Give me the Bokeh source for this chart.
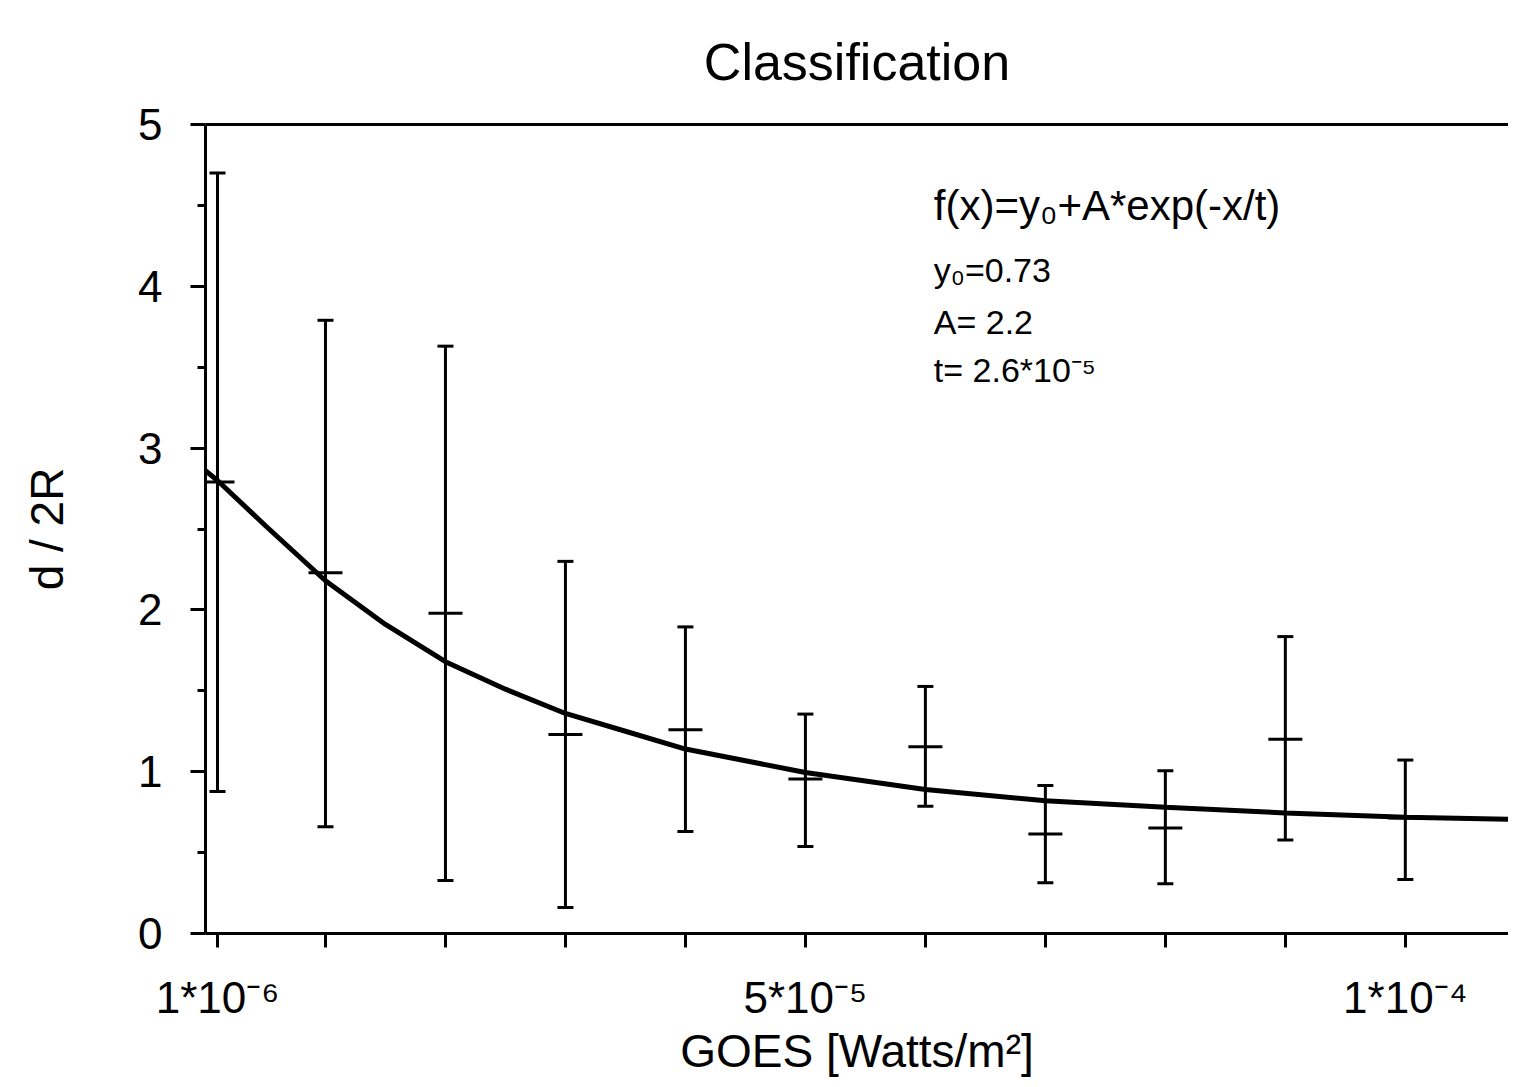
from bokeh.plotting import figure
from bokeh.models import FixedTicker, LinearAxis, Label, Range1d, ColumnDataSource
from bokeh.embed import file_html
from bokeh.resources import INLINE

# ---- data ----
goes = [1e-6, 1e-5, 2e-5, 3e-5, 4e-5, 5e-5, 6e-5, 7e-5, 8e-5, 9e-5, 1e-4]
ratio = [2.79, 2.23, 1.98, 1.23, 1.26, 0.955, 1.154, 0.615, 0.652, 1.20, 0.714]
ratio_hi = [4.70, 3.79, 3.63, 2.30, 1.895, 1.356, 1.527, 0.914, 1.006, 1.835, 1.072]
ratio_lo = [0.877, 0.66, 0.327, 0.16, 0.63, 0.537, 0.786, 0.313, 0.307, 0.578, 0.333]

fit_x = [0, 0.1e-5, 0.5e-5, 1e-5, 1.5e-5, 2e-5, 2.5e-5, 3e-5, 3.5e-5, 4e-5,
         5e-5, 6e-5, 7e-5, 8e-5, 9e-5, 10e-5, 11e-5]
fit_y = [2.86, 2.80, 2.52, 2.18, 1.91, 1.68, 1.51, 1.36, 1.25, 1.14,
         0.995, 0.89, 0.82, 0.78, 0.745, 0.718, 0.705]

x_ticks = [1e-6, 1e-5, 2e-5, 3e-5, 4e-5, 5e-5, 6e-5, 7e-5, 8e-5, 9e-5, 1e-4]
x_tick_labels = {1e-6: "1*10⁻⁶", 5e-5: "5*10⁻⁵", 1e-4: "1*10⁻⁴"}
y_ticks = [0, 1, 2, 3, 4, 5]
y_minor_ticks = [0.5, 1.5, 2.5, 3.5, 4.5]

title_text = "Classification"
x_label = "GOES [Watts/m²]"
y_label = "d / 2R"
fit_lines = ["f(x)=y₀+A*exp(-x/t)", "y₀=0.73", "A= 2.2", "t= 2.6*10⁻⁵"]

FONT = "Liberation Sans"

p = figure(width=1508, height=1079,
           x_range=Range1d(0, 1.086e-4), y_range=Range1d(0, 5),
           output_backend="svg", toolbar_location=None,
           min_border_left=205, min_border_right=0,
           min_border_top=123, min_border_bottom=146,
           title=title_text)
p.outline_line_color = None
p.xgrid.visible = False
p.ygrid.visible = False
p.background_fill_color = "white"
p.border_fill_color = "white"

p.title.text_font = FONT
p.title.text_font_size = "52px"
p.title.text_font_style = "normal"
p.title.text_color = "black"
p.title.align = "center"
p.title.vertical_align = "top"
p.title.standoff = 64

xa = p.xaxis[0]
xa.ticker = FixedTicker(ticks=x_ticks, minor_ticks=[])
xa.major_label_overrides = {t: x_tick_labels.get(t, "") for t in x_ticks}
ya = p.yaxis[0]
ya.ticker = FixedTicker(ticks=y_ticks, minor_ticks=y_minor_ticks)

for ax in (xa, ya):
    ax.axis_line_width = 3
    ax.axis_line_color = "black"
    ax.major_tick_line_width = 3
    ax.major_tick_line_color = "black"
    ax.minor_tick_line_width = 3
    ax.major_tick_in = 0
    ax.minor_tick_in = 0
    ax.major_label_text_font = FONT
    ax.major_label_text_font_size = "44px"
    ax.major_label_text_color = "black"
    ax.axis_label_text_font = FONT
    ax.axis_label_text_font_size = "46px"
    ax.axis_label_text_font_style = "normal"
    ax.axis_label_text_color = "black"

xa.major_tick_out = 14
xa.minor_tick_line_color = None
xa.major_label_standoff = 25
xa.axis_label = x_label
xa.axis_label_standoff = 0

ya.major_tick_out = 15
ya.minor_tick_out = 8
ya.major_label_standoff = 28
ya.axis_label = y_label
ya.axis_label_standoff = 62

top = LinearAxis(ticker=FixedTicker(ticks=[]), axis_line_width=3,
                 axis_line_color="black", major_label_text_font_size="0px",
                 major_tick_line_color=None, minor_tick_line_color=None)
p.add_layout(top, "above")

src = ColumnDataSource(dict(x=goes, y=ratio, hi=ratio_hi, lo=ratio_lo))
p.line(fit_x, fit_y, line_width=5, line_color="black")
p.segment(x0="x", y0="lo", x1="x", y1="hi", source=src, line_width=3, line_color="black")
p.scatter(x="x", y="hi", source=src, marker="dash", size=16, line_width=3, line_color="black")
p.scatter(x="x", y="lo", source=src, marker="dash", size=16, line_width=3, line_color="black")
p.scatter(x="x", y="y", source=src, marker="dash", size=34, line_width=3, line_color="black")

ann_x = 6.07e-5
ann_y = [4.50, 4.10, 3.78, 3.48]
ann_size = ["42px", "34px", "34px", "34px"]
for txt, yy, fs in zip(fit_lines, ann_y, ann_size):
    p.add_layout(Label(x=ann_x, y=yy, text=txt, text_font=FONT, text_font_size=fs,
                       text_baseline="alphabetic", text_align="left", text_color="black"))

open("out.html", "w").write(file_html(p, INLINE))
